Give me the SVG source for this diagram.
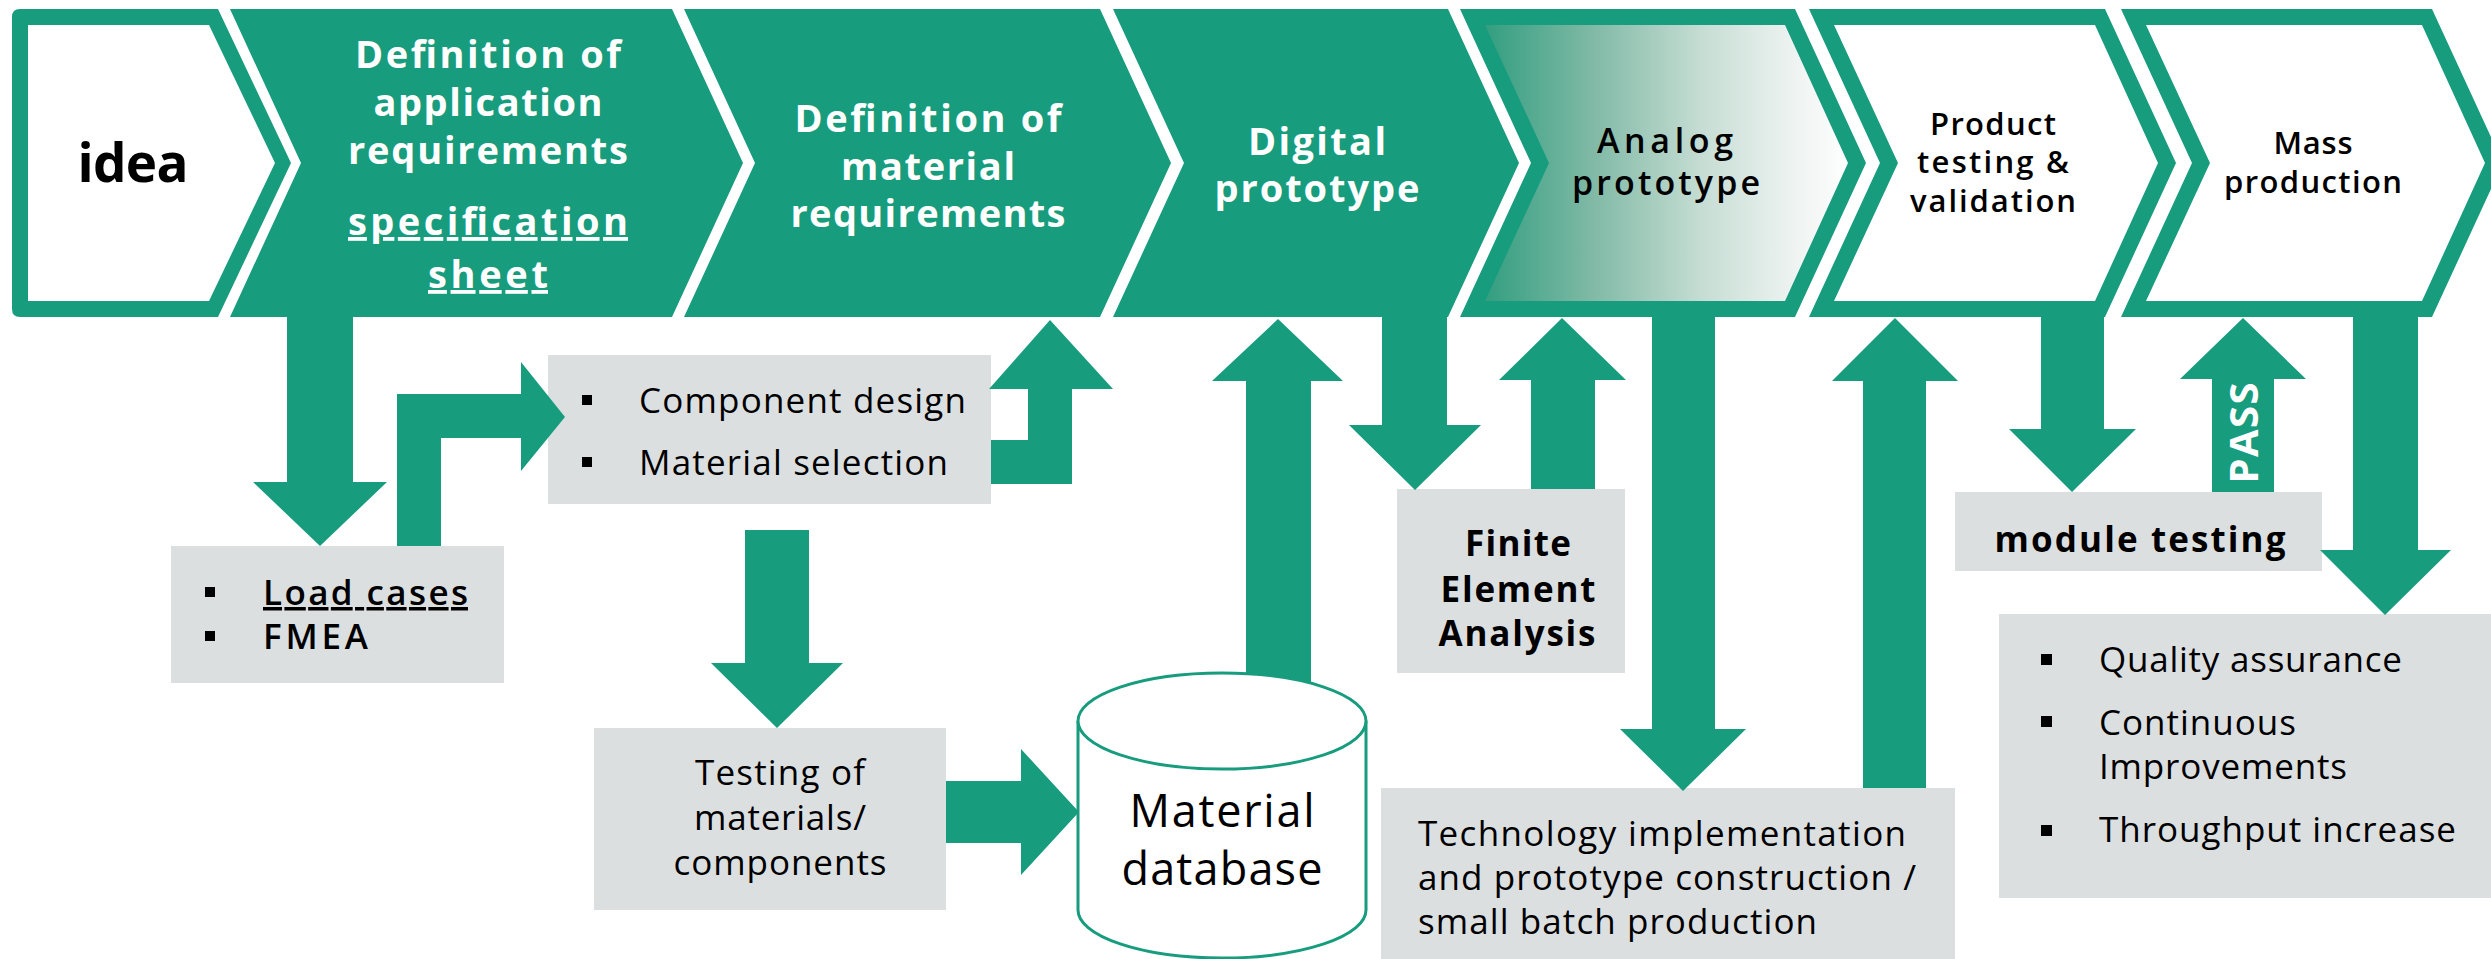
<svg xmlns="http://www.w3.org/2000/svg" width="2491" height="959" viewBox="0 0 2491 959">
<defs>
<linearGradient id="fade" gradientUnits="userSpaceOnUse" x1="1480" y1="0" x2="1850" y2="0">
<stop offset="0" stop-color="#2f9d7e"/>
<stop offset="0.3" stop-color="#7fb9a5"/>
<stop offset="0.6" stop-color="#c6ddd4"/>
<stop offset="0.85" stop-color="#eef3f1"/>
<stop offset="1" stop-color="#ffffff"/>
</linearGradient>
<style>
.g{fill:#179c7d}
.w{fill:#ffffff}
.box{fill:#dcdfe0}
.t{font-family:"Open Sans","Noto Sans","Liberation Sans",sans-serif}
.hw{fill:#ffffff;font-weight:700;font-size:38px;text-anchor:middle}
.hb{fill:#000000;font-weight:600;text-anchor:middle}
.bx{fill:#000000;font-size:35px}
.bul{fill:#000000}
</style>
</defs>
<rect width="2491" height="959" fill="#ffffff"/>

<g id="idea">
<path class="g" d="M20,9 L218,9 L291,163 L218,317 L20,317 Q12,317 12,309 L12,17 Q12,9 20,9 Z"/>
<polygon class="w" points="28,25 209,25 275,163 209,301 28,301"/>
<text class="t" x="133" y="182" font-size="53" font-weight="700" fill="#000" text-anchor="middle" textLength="111" lengthAdjust="spacing">idea</text>
</g>

<g id="app-requirements">
<polygon class="g" points="230,9 672,9 743,163 672,317 230,317 301,163"/>
<text class="t hw" x="488" y="68" textLength="266" lengthAdjust="spacing">Definition of</text>
<text class="t hw" x="488" y="116" textLength="229" lengthAdjust="spacing">application</text>
<text class="t hw" x="488" y="164" textLength="280" lengthAdjust="spacing">requirements</text>
<text class="t hw" x="488" y="235" font-size="41" font-weight="600" text-decoration="underline" textLength="280" lengthAdjust="spacing">specification</text>
<text class="t hw" x="488" y="288" font-size="41" font-weight="600" text-decoration="underline" textLength="120" lengthAdjust="spacing">sheet</text>
</g>

<g id="mat-requirements">
<polygon class="g" points="684,9 1100,9 1171,163 1100,317 684,317 755,163"/>
<text class="t hw" x="928" y="132" textLength="267" lengthAdjust="spacing">Definition of</text>
<text class="t hw" x="928" y="180" textLength="174" lengthAdjust="spacing">material</text>
<text class="t hw" x="928" y="227" textLength="275" lengthAdjust="spacing">requirements</text>
</g>

<g id="digital-prototype">
<polygon class="g" points="1113,9 1448,9 1519,163 1448,317 1113,317 1184,163"/>
<text class="t hw" x="1317" y="155" font-size="37" textLength="138" lengthAdjust="spacing">Digital</text>
<text class="t hw" x="1317" y="202" font-size="37" textLength="205" lengthAdjust="spacing">prototype</text>
</g>

<g id="analog-prototype">
<polygon class="g" points="1460,9 1795,9 1866,163 1795,317 1460,317 1531,163"/>
<polygon fill="url(#fade)" points="1485,25 1785,25 1848,163 1785,301 1485,301 1549,163"/>
<text class="t hb" x="1665" y="153" font-size="34" textLength="136" lengthAdjust="spacing">Analog</text>
<text class="t hb" x="1666" y="195" font-size="34" textLength="188" lengthAdjust="spacing">prototype</text>
</g>

<g id="product-testing">
<polygon class="g" points="1809,9 2105,9 2176,163 2105,317 1809,317 1880,163"/>
<polygon class="w" points="1834,25 2095,25 2158,163 2095,301 1834,301 1898,163"/>
<text class="t hb" x="1993" y="135" font-size="31" textLength="126" lengthAdjust="spacing">Product</text>
<text class="t hb" x="1993" y="173" font-size="31" textLength="152" lengthAdjust="spacing">testing &amp;</text>
<text class="t hb" x="1993" y="212" font-size="31" textLength="166" lengthAdjust="spacing">validation</text>
</g>

<g id="mass-production">
<polygon class="g" points="2121,9 2432,9 2503,163 2432,317 2121,317 2192,163"/>
<polygon class="w" points="2146,25 2422,25 2485,163 2422,301 2146,301 2210,163"/>
<text class="t hb" x="2313" y="154" font-size="31" textLength="79" lengthAdjust="spacing">Mass</text>
<text class="t hb" x="2313" y="193" font-size="31" textLength="178" lengthAdjust="spacing">production</text>
</g>

<g id="load-cases">
<rect class="box" x="171" y="546" width="333" height="137"/>
<rect class="bul" x="205" y="587" width="10" height="10"/>
<rect class="bul" x="205" y="631" width="10" height="10"/>
<text class="t bx" x="263" y="605" font-weight="600" text-decoration="underline" textLength="205" lengthAdjust="spacing">Load cases</text>
<text class="t bx" x="263" y="649" font-weight="600" textLength="105" lengthAdjust="spacing">FMEA</text>
</g>

<g id="component-design">
<rect class="box" x="548" y="355" width="443" height="149"/>
<rect class="bul" x="582" y="395" width="10" height="10"/>
<rect class="bul" x="582" y="457" width="10" height="10"/>
<text class="t bx" x="639" y="413" font-size="36" textLength="327" lengthAdjust="spacing">Component design</text>
<text class="t bx" x="639" y="475" font-size="36" textLength="309" lengthAdjust="spacing">Material selection</text>
</g>

<g id="testing-materials">
<rect class="box" x="594" y="728" width="352" height="182"/>
<text class="t bx" x="780" y="785" text-anchor="middle" textLength="170" lengthAdjust="spacing">Testing of</text>
<text class="t bx" x="780" y="830" text-anchor="middle" textLength="172" lengthAdjust="spacing">materials/</text>
<text class="t bx" x="780" y="875" text-anchor="middle" textLength="213" lengthAdjust="spacing">components</text>
</g>

<g id="fea">
<rect class="box" x="1397" y="489" width="228" height="184"/>
<text class="t" x="1518" y="556" font-size="35" font-weight="700" fill="#000" text-anchor="middle" textLength="106" lengthAdjust="spacing">Finite</text>
<text class="t" x="1518" y="602" font-size="35" font-weight="700" fill="#000" text-anchor="middle" textLength="155" lengthAdjust="spacing">Element</text>
<text class="t" x="1517" y="646" font-size="35" font-weight="700" fill="#000" text-anchor="middle" textLength="157" lengthAdjust="spacing">Analysis</text>
</g>

<g id="technology">
<rect class="box" x="1381" y="788" width="574" height="171"/>
<text class="t bx" x="1418" y="846" textLength="488" lengthAdjust="spacing">Technology implementation</text>
<text class="t bx" x="1418" y="890" textLength="498" lengthAdjust="spacing">and prototype construction /</text>
<text class="t bx" x="1418" y="934" textLength="399" lengthAdjust="spacing">small batch production</text>
</g>

<g id="module-testing">
<rect class="box" x="1955" y="492" width="367" height="79"/>
<text class="t" x="2140" y="552" font-size="35" font-weight="700" fill="#000" text-anchor="middle" textLength="291" lengthAdjust="spacing">module testing</text>
</g>

<g id="quality">
<rect class="box" x="1999" y="614" width="492" height="284"/>
<rect class="bul" x="2041" y="654" width="11" height="11"/>
<rect class="bul" x="2041" y="716" width="11" height="11"/>
<rect class="bul" x="2041" y="825" width="11" height="11"/>
<text class="t bx" x="2099" y="672" textLength="303" lengthAdjust="spacing">Quality assurance</text>
<text class="t bx" x="2099" y="735" textLength="197" lengthAdjust="spacing">Continuous</text>
<text class="t bx" x="2099" y="779" textLength="248" lengthAdjust="spacing">Improvements</text>
<text class="t bx" x="2099" y="842" textLength="357" lengthAdjust="spacing">Throughput increase</text>
</g>

<g id="connectors">
<polygon class="g" points="287,317 353,317 353,482 387,482 320,546 253,482 287,482"/>
<polygon class="g" points="397,546 397,394 521,394 521,362 565,417 521,471 521,438 441,438 441,546"/>
<polygon class="g" points="991,440 1028,440 1028,389 989,389 1050,320 1113,389 1072,389 1072,484 991,484"/>
<polygon class="g" points="745,530 809,530 809,663 843,663 777,728 711,663 745,663"/>
<polygon class="g" points="946,781 1021,781 1021,749 1079,812 1021,875 1021,843 946,843"/>
<polygon class="g" points="1246,720 1246,381 1212,381 1278,319 1343,381 1311,381 1311,720"/>
<polygon class="g" points="1382,317 1447,317 1447,425 1481,425 1415,490 1349,425 1382,425"/>
<polygon class="g" points="1531,489 1531,380 1499,380 1562,318 1626,380 1595,380 1595,489"/>
<polygon class="g" points="1652,317 1715,317 1715,729 1746,729 1683,791 1620,729 1652,729"/>
<polygon class="g" points="1863,788 1863,381 1832,381 1895,318 1958,381 1926,381 1926,788"/>
<polygon class="g" points="2041,317 2104,317 2104,429 2136,429 2072,492 2009,429 2041,429"/>
<polygon class="g" points="2212,492 2212,379 2180,379 2243,318 2306,379 2274,379 2274,492"/>
<polygon class="g" points="2353,317 2418,317 2418,550 2451,550 2385,615 2320,550 2353,550"/>
<text class="t" transform="translate(2258,433) rotate(-90)" font-size="40" font-weight="700" fill="#ffffff" text-anchor="middle" textLength="101" lengthAdjust="spacing">PASS</text>
</g>

<g id="material-database">
<path d="M1078,721 L1078,910 A144,48 0 0 0 1366,910 L1366,721" fill="#ffffff" stroke="#179c7d" stroke-width="3"/>
<ellipse cx="1222" cy="721" rx="144" ry="48" fill="#ffffff" stroke="#179c7d" stroke-width="3"/>
<text class="t" x="1222" y="827" font-size="45" fill="#000" text-anchor="middle" textLength="185" lengthAdjust="spacing">Material</text>
<text class="t" x="1222" y="885" font-size="45" fill="#000" text-anchor="middle" textLength="201" lengthAdjust="spacing">database</text>
</g>
</svg>
